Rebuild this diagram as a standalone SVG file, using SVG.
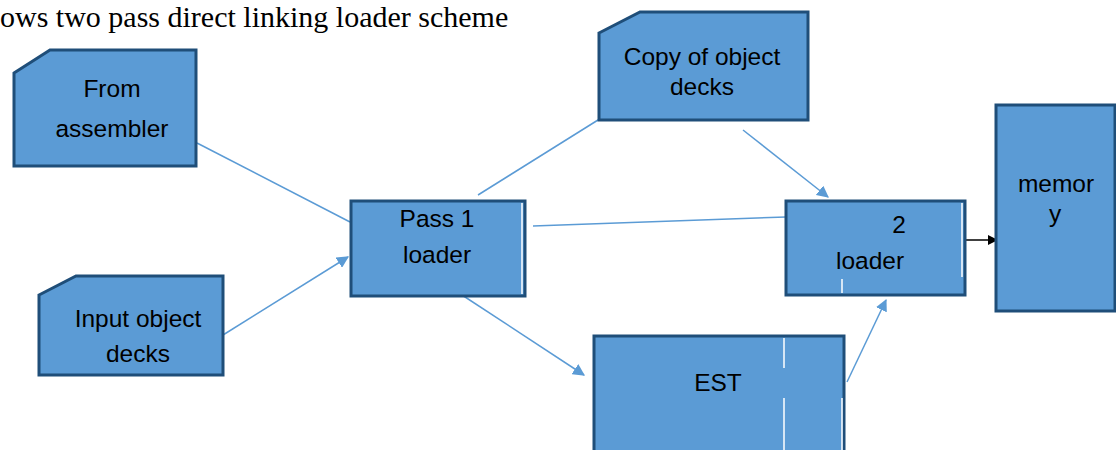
<svg xmlns="http://www.w3.org/2000/svg" width="1116" height="450" viewBox="0 0 1116 450">
<style>
.box{fill:#5B9BD5;stroke:#1F4E79;stroke-width:3}
.lbl{font-family:"Liberation Sans",Arial,sans-serif;font-size:24.5px;fill:#000;text-anchor:middle}
.con{stroke:#5B9BD5;stroke-width:1.5;fill:none}
.wl{stroke:#fff;stroke-width:1.5}
.title{font-family:"Liberation Serif","Times New Roman",serif;font-size:30px;fill:#000}
</style>
<defs>
<marker id="ah" viewBox="0 0 10 10" refX="9" refY="5" markerWidth="12" markerHeight="12" markerUnits="userSpaceOnUse" orient="auto">
<path d="M0,0 L10,5 L0,10 z" fill="#5B9BD5"/>
</marker>
<marker id="ahs" viewBox="0 0 10 10" refX="9" refY="5" markerWidth="7" markerHeight="7" markerUnits="userSpaceOnUse" orient="auto">
<path d="M0,0 L10,5 L0,10 z" fill="#5B9BD5"/>
</marker>
<marker id="ahb" viewBox="0 0 10 10" refX="9" refY="5" markerWidth="10" markerHeight="12" markerUnits="userSpaceOnUse" orient="auto">
<path d="M0,0 L10,5 L0,10 z" fill="#000"/>
</marker>
</defs>
<text class="title" x="0" y="27">ows two pass direct linking loader scheme</text>
<g id="connectors">
<line class="con" x1="197" y1="143" x2="350" y2="222"/>
<line class="con" x1="223" y1="335" x2="348" y2="257" marker-end="url(#ah)"/>
<line class="con" x1="478" y1="195" x2="606" y2="115" marker-end="url(#ahs)"/>
<line class="con" x1="533" y1="226" x2="786" y2="217"/>
<line class="con" x1="743" y1="130" x2="828" y2="197" marker-end="url(#ah)"/>
<line class="con" x1="462" y1="295" x2="584" y2="375" marker-end="url(#ah)"/>
<line class="con" x1="847" y1="382" x2="886" y2="300" marker-end="url(#ah)"/>
<line x1="963" y1="240" x2="997" y2="240" stroke="#000" stroke-width="1.5" marker-end="url(#ahb)"/>
</g>
<g id="from-assembler">
<path class="box" d="M14,73 L50,50 L196,50 L196,166 L14,166 Z"/>
<text class="lbl" x="112" y="97">From</text>
<text class="lbl" x="112" y="137">assembler</text>
</g>
<g id="input-object-decks">
<path class="box" d="M39,295 L76,276 L223,276 L223,375 L39,375 Z"/>
<text class="lbl" x="138" y="327">Input object</text>
<text class="lbl" x="138" y="362">decks</text>
</g>
<g id="pass1-loader">
<rect class="box" x="351" y="201" width="174" height="95"/>
<line class="wl" x1="522" y1="203" x2="522" y2="294"/>
<text class="lbl" x="437" y="227">Pass 1</text>
<text class="lbl" x="437" y="263">loader</text>
</g>
<g id="copy-of-object-decks">
<path class="box" d="M599,33 L640,12 L808,12 L808,120 L599,120 Z"/>
<text class="lbl" x="702" y="65">Copy of object</text>
<text class="lbl" x="702" y="95">decks</text>
</g>
<g id="pass2-loader">
<rect class="box" x="786" y="201" width="179" height="94"/>
<line class="wl" x1="962" y1="203" x2="962" y2="277"/>
<line class="wl" x1="842" y1="279" x2="842" y2="293"/>
<text class="lbl" x="899" y="233">2</text>
<text class="lbl" x="870" y="269">loader</text>
</g>
<g id="memory">
<rect class="box" x="996" y="105" width="119" height="206"/>
<text class="lbl" x="1056" y="192">memor</text>
<text class="lbl" x="1055" y="222">y</text>
</g>
<g id="est">
<rect class="box" x="594" y="336" width="250" height="130"/>
<line class="wl" x1="784" y1="338" x2="784" y2="368"/>
<line class="wl" x1="784" y1="398" x2="784" y2="450"/>
<line class="wl" x1="842" y1="398" x2="842" y2="450"/>
<text class="lbl" x="718" y="391">EST</text>
</g>
</svg>
